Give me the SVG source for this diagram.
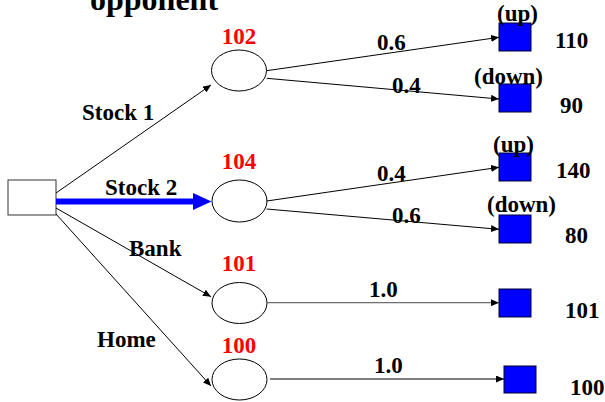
<svg xmlns="http://www.w3.org/2000/svg" width="605" height="402" viewBox="0 0 605 402">
<style>
text{font-family:"Liberation Serif","Times New Roman",serif;font-weight:bold;font-size:23px;fill:#000}
.red{fill:#ff0000;text-anchor:middle}
.title{font-size:32px}
.chance{fill:#fff;stroke:#000;stroke-width:1}
.dec{fill:#fff;stroke:#333;stroke-width:1}
.leaf{fill:#0000ff;stroke:#000033;stroke-width:1}
.edge{stroke:#000;stroke-width:1;fill:none;marker-end:url(#ah)}
.grey{stroke:#6e6e6e;stroke-width:1.3}
</style>
<defs>
<marker id="ah" markerUnits="userSpaceOnUse" markerWidth="9" markerHeight="7" refX="8" refY="3.5" orient="auto">
<path d="M0,0 L8,3.5 L0,7 Z" fill="#000"/>
</marker>
</defs>
<text class="title" x="90" y="10">opponent</text>
<g id="decision"><rect class="dec" x="8" y="180" width="48" height="35"/></g>
<g id="n102"><ellipse class="chance" cx="239" cy="70.5" rx="27.5" ry="20.5"/><text class="red" x="239" y="44">102</text></g>
<g id="n104"><ellipse class="chance" cx="239.5" cy="201" rx="27.5" ry="21"/><text class="red" x="239" y="169">104</text></g>
<g id="n101"><ellipse class="chance" cx="239.5" cy="303" rx="27.5" ry="20.5"/><text class="red" x="239" y="271">101</text></g>
<g id="n100"><ellipse class="chance" cx="239.5" cy="379.5" rx="27.5" ry="20.5"/><text class="red" x="239" y="353">100</text></g>
<g id="leaf1"><rect class="leaf" x="499" y="23" width="32" height="28"/><text x="497" y="21">(up)</text><text x="555" y="48">110</text></g>
<g id="leaf2"><rect class="leaf" x="499" y="84" width="32" height="28"/><text x="474" y="84">(down)</text><text x="560" y="113">90</text></g>
<g id="leaf3"><rect class="leaf" x="499" y="153" width="32" height="28"/><text x="493" y="152">(up)</text><text x="556" y="178">140</text></g>
<g id="leaf4"><rect class="leaf" x="499" y="215" width="32" height="28"/><text x="487" y="212">(down)</text><text x="565" y="243">80</text></g>
<g id="leaf5"><rect class="leaf" x="499" y="289" width="32" height="28"/><text x="565" y="318">101</text></g>
<g id="leaf6"><rect class="leaf" x="504" y="366" width="32" height="27"/><text x="570" y="395">100</text></g>
<g id="labels">
<text x="82" y="120">Stock 1</text>
<text x="105" y="195">Stock 2</text>
<text x="129" y="256">Bank</text>
<text x="97" y="347">Home</text>
<text x="377" y="50">0.6</text>
<text x="392" y="93">0.4</text>
<text x="377" y="181">0.4</text>
<text x="392" y="223">0.6</text>
<text x="369" y="297">1.0</text>
<text x="374" y="373">1.0</text>
</g>
<g id="connectors">
<line class="edge" x1="56" y1="193" x2="211" y2="85"/>
<line x1="56" y1="201.5" x2="194" y2="201.5" stroke="#0000ff" stroke-width="6"/>
<polygon points="193,193 211.5,201.5 193,210" fill="#0000ff"/>
<line class="edge" x1="56" y1="208" x2="211" y2="296.7"/>
<line class="edge" x1="56" y1="214" x2="211" y2="386"/>
<line class="edge" x1="266.7" y1="70.7" x2="499" y2="37.3"/>
<line class="edge" x1="266.7" y1="78.3" x2="499" y2="99"/>
<line class="edge" x1="266.7" y1="201" x2="499" y2="167.3"/>
<line class="edge" x1="266.7" y1="209" x2="499" y2="229.3"/>
<line class="edge grey" x1="267" y1="302.7" x2="499" y2="302.7"/>
<line class="edge" x1="270" y1="379" x2="504" y2="379"/>
</g>
</svg>
